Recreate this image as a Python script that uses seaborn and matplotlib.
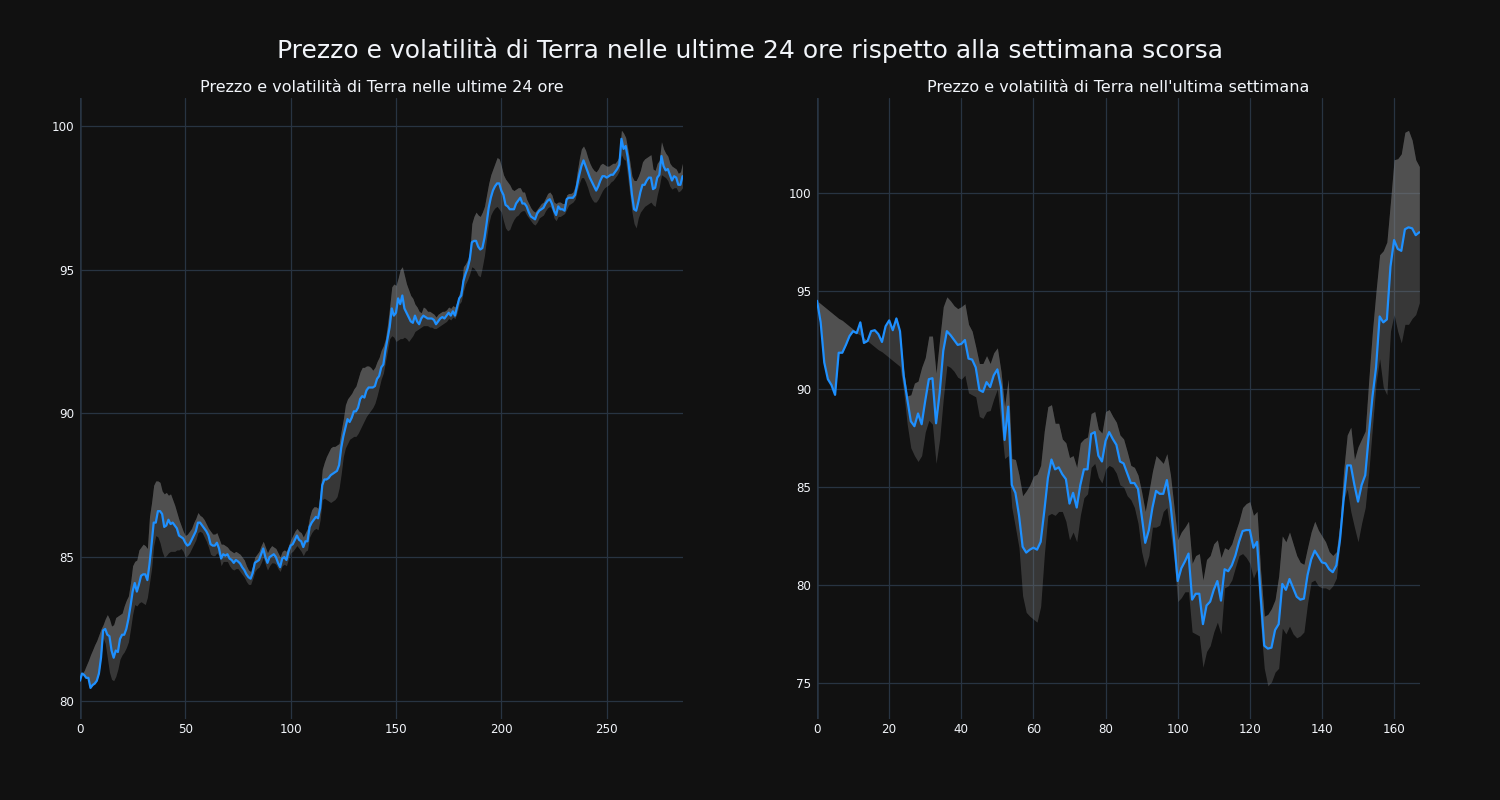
import numpy as np
import matplotlib
matplotlib.use("Agg")
import matplotlib.pyplot as plt
import seaborn as sns

# --- ultime 24 ore (prezzo e banda di volatilità) ---
prezzo_24h = [
    80.7, 80.95, 80.9, 80.8, 80.8, 80.45, 80.55, 80.6, 80.7, 80.95,
    81.5, 82.45, 82.5, 82.3, 82.25, 81.75, 81.5, 81.75, 81.7, 82.15,
    82.3, 82.3, 82.5, 82.85, 83.3, 83.8, 84.1, 83.8, 84.05, 84.35,
    84.4, 84.4, 84.2, 84.75, 85.45, 86.2, 86.2, 86.6, 86.6, 86.5,
    86.05, 86.1, 86.3, 86.15, 86.2, 86.1, 86.0, 85.75, 85.7, 85.65,
    85.5, 85.4, 85.45, 85.6, 85.75, 85.9, 86.2, 86.2, 86.1, 86.0,
    85.9, 85.75, 85.45, 85.4, 85.4, 85.5, 85.3, 84.95, 85.1, 85.05,
    85.1, 84.95, 84.9, 84.8, 84.9, 84.85, 84.78, 84.65, 84.55, 84.4,
    84.3, 84.25, 84.45, 84.8, 84.85, 84.9, 85.1, 85.3, 85.0, 84.8,
    85.0, 85.05, 85.1, 85.0, 84.8, 84.65, 84.95, 85.0, 84.9, 85.2,
    85.4, 85.45, 85.6, 85.75, 85.6, 85.55, 85.35, 85.55, 85.55, 86.05,
    86.2, 86.3, 86.4, 86.35, 86.7, 87.5, 87.7, 87.7, 87.75, 87.85,
    87.9, 87.95, 88.0, 88.2, 88.8, 89.2, 89.5, 89.8, 89.7, 89.85,
    90.07, 90.07, 90.2, 90.5, 90.6, 90.55, 90.8, 90.9, 90.9, 90.9,
    90.95, 91.2, 91.3, 91.6, 91.7, 92.2, 92.6, 93.0, 93.65, 93.4,
    93.5, 94.0, 93.8, 94.1, 93.65, 93.5, 93.35, 93.2, 93.15, 93.4,
    93.2, 93.1, 93.3, 93.4, 93.35, 93.3, 93.3, 93.3, 93.25, 93.1,
    93.2, 93.3, 93.35, 93.3, 93.4, 93.5, 93.4, 93.55, 93.4, 93.7,
    94.0, 94.1, 94.6, 94.85, 95.05, 95.35, 95.95, 96.0, 96.0, 95.8,
    95.7, 95.75, 96.1, 96.6, 97.15, 97.5, 97.75, 97.9, 98.0, 98.0,
    97.75, 97.6, 97.25, 97.2, 97.1, 97.1, 97.1, 97.3, 97.4, 97.5,
    97.3, 97.3, 97.2, 97.0, 96.85, 96.8, 96.75, 96.95, 97.05, 97.1,
    97.15, 97.3, 97.4, 97.45, 97.3, 97.05, 96.9, 97.2, 97.1, 97.1,
    97.05, 97.45, 97.5, 97.5, 97.5, 97.6, 97.95, 98.3, 98.6, 98.8,
    98.6, 98.4, 98.2, 98.05, 97.9, 97.75, 97.9, 98.1, 98.25, 98.25,
    98.2, 98.25, 98.3, 98.3, 98.4, 98.5, 98.65, 99.55, 99.2, 99.3,
    98.9, 98.3, 97.6, 97.1, 97.05, 97.35, 97.7, 97.95, 97.95, 98.1,
    98.2, 98.2, 97.8, 97.85, 98.2, 98.3, 98.95, 98.6, 98.45, 98.5,
    98.3, 98.1, 98.25, 98.2, 97.95, 97.95, 98.25,
]
sup_24h = [
    80.7, 80.95, 81.05, 81.23, 81.4, 81.6, 81.77, 81.95, 82.1, 82.3,
    82.5, 82.65, 82.85, 83.0, 82.85, 82.6, 82.65, 82.9, 82.95, 83.0,
    83.05, 83.3, 83.5, 83.65, 84.1, 84.7, 84.85, 84.9, 85.25, 85.35,
    85.45, 85.4, 85.3, 86.4, 86.9, 87.5, 87.65, 87.65, 87.6, 87.3,
    87.2, 87.25, 87.15, 87.2, 87.0, 86.8, 86.55, 86.3, 86.1, 85.9,
    85.75, 85.8, 85.9, 86.0, 86.2, 86.35, 86.55, 86.45, 86.4, 86.3,
    86.15, 86.0, 85.9, 85.8, 85.8, 85.85, 85.65, 85.45, 85.45, 85.4,
    85.35, 85.25, 85.2, 85.15, 85.2, 85.15, 85.1, 85.0, 84.9, 84.7,
    84.55, 84.5, 84.7, 85.0, 85.1, 85.2, 85.4, 85.55, 85.35, 85.15,
    85.3, 85.4, 85.35, 85.3, 85.15, 85.0, 85.2, 85.25, 85.2, 85.4,
    85.6, 85.75, 85.9, 86.0, 85.9, 85.85, 85.7, 85.85, 86.0, 86.4,
    86.65, 86.75, 86.75, 86.7, 87.2, 88.05, 88.3, 88.5, 88.65, 88.8,
    88.85, 88.85, 88.9, 88.95, 89.4, 89.8, 90.3, 90.5, 90.6, 90.7,
    90.85, 90.95, 91.2, 91.45, 91.6, 91.6, 91.65, 91.65, 91.6, 91.5,
    91.6, 91.8, 91.95, 92.2, 92.35, 92.6, 93.1, 93.7, 94.4, 94.5,
    94.45, 94.7, 95.0, 95.1, 94.8, 94.5, 94.3, 94.1, 94.0, 93.8,
    93.7, 93.55, 93.5, 93.7, 93.65, 93.55, 93.55, 93.5, 93.45, 93.35,
    93.45, 93.5, 93.55, 93.55, 93.6, 93.7, 93.65, 93.75, 93.7, 93.9,
    94.15, 94.4, 95.1, 95.2, 95.35, 95.6, 96.6, 96.85, 97.0, 96.9,
    96.85, 97.0, 97.2, 97.6, 98.0, 98.3, 98.5, 98.7, 98.9, 98.85,
    98.6, 98.3, 98.15, 98.05, 97.95, 97.8, 97.75, 97.8, 97.85, 97.85,
    97.7, 97.7, 97.45, 97.3, 97.15, 97.05, 97.0, 97.1, 97.2, 97.3,
    97.35, 97.5, 97.65, 97.7, 97.6, 97.35, 97.3, 97.35, 97.35, 97.3,
    97.3, 97.6, 97.65, 97.65, 97.7, 97.9, 98.4, 98.85, 99.2, 99.3,
    99.15, 98.9, 98.7, 98.55, 98.45, 98.4, 98.5, 98.65, 98.7, 98.65,
    98.6, 98.6, 98.65, 98.7, 98.7, 98.8, 98.95, 99.85, 99.75, 99.6,
    99.2, 98.75, 98.25, 98.1, 98.1, 98.25, 98.45, 98.75, 98.85, 98.9,
    98.95, 99.0, 98.5, 98.45, 98.7, 98.8, 99.45, 99.2, 99.05, 98.95,
    98.7, 98.6, 98.55, 98.5, 98.35, 98.4, 98.7,
]
inf_24h = [
    80.7, 80.95, 80.9, 80.8, 80.8, 80.45, 80.55, 80.6, 80.7, 80.95,
    81.5, 82.2, 82.0, 81.5, 81.0, 80.75, 80.7, 80.85, 81.1, 81.45,
    81.6, 81.7, 81.85, 82.05, 82.5, 83.0, 83.35, 83.3, 83.4, 83.45,
    83.4, 83.35, 83.6, 84.1, 84.6, 85.4, 85.75, 85.7, 85.5, 85.2,
    85.0, 85.05, 85.15, 85.2, 85.2, 85.2, 85.25, 85.25, 85.3, 85.2,
    85.0, 85.05, 85.15, 85.3, 85.45, 85.6, 85.85, 85.9, 85.85, 85.7,
    85.55, 85.35, 85.1, 85.05, 85.05, 85.15, 85.05, 84.7, 84.85, 84.85,
    84.85, 84.7, 84.6, 84.55, 84.6, 84.6, 84.5, 84.4, 84.3, 84.15,
    84.05, 84.05, 84.25, 84.5, 84.6, 84.65, 84.8, 85.0, 84.75, 84.55,
    84.7, 84.8, 84.8, 84.75, 84.6, 84.5, 84.7, 84.75, 84.7, 84.95,
    85.15, 85.2, 85.3, 85.4, 85.3, 85.2, 85.05, 85.2, 85.25, 85.7,
    85.85, 85.95, 86.0, 85.95, 86.3, 87.0, 87.05, 87.0, 86.95, 86.9,
    86.95, 87.0, 87.1, 87.4, 87.9, 88.5, 88.8, 88.95, 89.1, 89.15,
    89.2, 89.2, 89.3, 89.45, 89.6, 89.75, 89.9, 90.0, 90.1, 90.2,
    90.35, 90.6, 90.9, 91.2, 91.4, 91.8, 92.2, 92.6, 92.7, 92.65,
    92.5, 92.55, 92.6, 92.6, 92.65, 92.6, 92.5, 92.6, 92.7, 92.85,
    92.9, 92.95, 93.0, 93.05, 93.05, 93.05, 93.0, 93.0, 92.95, 92.95,
    93.0, 93.05, 93.1, 93.15, 93.2, 93.3, 93.25, 93.35, 93.3, 93.5,
    93.8, 93.9, 94.25, 94.5, 94.65, 94.85, 95.1, 95.05, 94.95, 94.8,
    94.75, 95.1, 95.5, 96.1, 96.6, 96.9, 97.05, 97.15, 97.2, 97.1,
    97.0, 96.7, 96.45, 96.35, 96.4, 96.6, 96.75, 96.85, 96.9, 97.0,
    97.05, 97.05, 96.9, 96.8, 96.7, 96.6, 96.55, 96.65, 96.8, 96.85,
    96.9, 97.05, 97.15, 97.2, 97.1, 96.8, 96.7, 96.85, 96.85, 96.9,
    96.95, 97.1, 97.25, 97.3, 97.35, 97.45, 97.75, 98.0, 98.2, 98.2,
    98.05, 97.85, 97.6, 97.45, 97.35, 97.35, 97.45, 97.6, 97.75, 97.85,
    97.9, 97.95, 98.05, 98.1, 98.2, 98.3, 98.45, 99.0, 98.85, 98.8,
    98.2, 97.6, 97.0, 96.6, 96.45, 96.8, 97.0, 97.1, 97.2, 97.25,
    97.3, 97.35, 97.25, 97.2, 97.6, 97.9, 98.3, 98.25, 98.2, 98.1,
    97.9, 97.8, 97.85, 97.85, 97.7, 97.75, 97.85,
]

# --- ultima settimana ---
prezzo_7g = [
    94.5, 93.4, 91.35, 90.5, 90.2, 89.7, 91.85, 91.85, 92.25, 92.7,
    92.95, 92.85, 93.4, 92.35, 92.45, 92.95, 93.0, 92.8, 92.4, 93.2,
    93.5, 93.0, 93.6, 92.95, 90.7, 89.5, 88.35, 88.1, 88.75, 88.2,
    89.4, 90.5, 90.55, 88.25, 89.8, 91.95, 92.95, 92.75, 92.5, 92.25,
    92.3, 92.5, 91.55, 91.5, 91.1, 89.95, 89.85, 90.35, 90.1, 90.7,
    91.0, 90.1, 87.4, 89.1, 85.1, 84.7, 83.55, 81.95, 81.65, 81.8,
    81.9, 81.8, 82.2, 83.75, 85.45, 86.4, 85.9, 86.0, 85.65, 85.4,
    84.15, 84.7, 83.95, 85.1, 85.9, 85.9, 87.7, 87.8, 86.6, 86.3,
    87.35, 87.8, 87.45, 87.15, 86.3, 86.2, 85.7, 85.2, 85.2, 84.9,
    83.55, 82.15, 82.8, 83.95, 84.8, 84.65, 84.65, 85.35, 84.15, 82.3,
    80.2, 80.85, 81.2, 81.6, 79.25, 79.55, 79.55, 78.0, 78.95, 79.15,
    79.75, 80.2, 79.2, 80.8, 80.7, 81.0, 81.5, 82.2, 82.75, 82.8,
    82.8, 81.9, 82.2, 79.45, 76.9, 76.75, 76.8, 77.7, 78.0, 80.05,
    79.75, 80.3, 79.85, 79.4, 79.25, 79.3, 80.5, 81.3, 81.75, 81.45,
    81.15, 81.1, 80.8, 80.65, 81.0, 82.3, 84.35, 86.1, 86.1, 85.1,
    84.25, 85.1, 85.6, 87.65, 89.6, 91.1, 93.7, 93.4, 93.55, 96.25,
    97.6, 97.15, 97.05, 98.15, 98.25, 98.2, 97.85, 98.0,
]
sup_7g = [
    94.5, 94.35, 94.2, 94.05, 93.9, 93.75, 93.6, 93.5, 93.35, 93.2,
    93.05, 92.9, 93.4, 92.6, 92.45, 92.95, 93.0, 92.8, 92.4, 93.2,
    93.5, 93.0, 93.6, 92.95, 91.0, 89.65, 89.7, 90.3, 90.4, 91.1,
    91.6, 92.7, 92.7, 90.8, 92.55, 94.2, 94.7, 94.5, 94.25, 94.1,
    94.2, 94.35, 93.3, 92.95, 92.15, 91.3, 91.3, 91.7, 91.3, 91.85,
    92.1, 90.9, 89.1, 90.5, 86.45, 86.4, 85.6, 84.55, 84.8, 85.1,
    85.55, 85.65, 86.1, 87.85, 89.1, 89.2, 88.25, 88.25, 87.45, 87.25,
    86.5, 86.6, 86.0, 87.25, 87.45, 87.55, 88.75, 88.85, 87.95, 87.75,
    88.85, 88.95, 88.6, 88.3, 87.65, 87.45, 86.8, 86.1, 86.0, 85.6,
    84.75, 83.75, 84.75, 85.8, 86.6, 86.4, 86.2, 86.7, 85.6, 83.95,
    82.3, 82.7, 82.95, 83.25, 81.1, 81.5, 81.6, 80.25, 81.3, 81.5,
    82.1, 82.3, 81.4, 81.9, 81.8, 82.1, 82.7, 83.25, 83.95, 84.15,
    84.25, 83.55, 83.75, 80.7, 78.4, 78.5, 78.8, 79.25, 80.45, 82.5,
    82.2, 82.7, 82.1, 81.5, 81.15, 81.05, 81.9, 82.7, 83.25, 82.8,
    82.5, 82.2, 81.7, 81.5, 81.7, 83.15, 85.8, 87.65, 88.05, 86.4,
    87.05, 87.45, 87.85, 90.5, 92.95, 95.0, 96.85, 97.05, 97.5, 99.55,
    101.7, 101.75, 102.0, 103.1, 103.2, 102.7, 101.7, 101.35,
]
inf_7g = [
    94.5, 93.4, 91.35, 90.5, 90.2, 89.7, 91.85, 91.85, 92.25, 92.7,
    92.95, 92.85, 92.75, 92.35, 92.45, 92.3, 92.15, 92.0, 91.9, 91.75,
    91.6, 91.45, 91.3, 91.15, 89.9, 88.2, 87.0, 86.6, 86.3, 86.6,
    87.8, 88.4, 88.2, 86.2, 87.45, 89.5, 91.2, 91.1, 90.9, 90.6,
    90.5, 90.7, 89.8, 89.7, 89.6, 88.6, 88.5, 88.85, 88.9, 89.5,
    90.0, 88.25, 86.45, 86.6, 83.95, 82.95, 81.9, 79.45, 78.6, 78.4,
    78.25, 78.1, 78.9, 81.5, 83.55, 83.65, 83.55, 83.75, 83.75, 83.25,
    82.3, 82.7, 82.2, 83.55, 84.45, 84.65, 86.0, 86.2, 85.5, 85.2,
    85.9, 86.1, 86.0, 85.7, 85.1, 85.0, 84.55, 84.35, 83.95, 83.15,
    81.7, 80.9, 81.5, 82.95, 82.95, 83.05, 83.75, 83.95, 82.7, 81.3,
    79.15, 79.35, 79.65, 79.65, 77.6, 77.5, 77.4, 75.8, 76.6, 76.9,
    77.6, 78.1, 77.5, 79.85, 79.95, 80.25, 80.9, 81.5, 81.6, 81.4,
    81.1, 80.35, 80.8, 78.0, 75.75, 74.85, 75.05, 75.55, 75.75, 77.8,
    77.5, 77.9, 77.5, 77.3, 77.4, 77.6, 79.05, 80.15, 80.25, 79.95,
    79.85, 79.85, 79.75, 79.95, 80.35, 82.1, 84.3, 84.9, 83.75, 82.95,
    82.2, 83.15, 83.95, 85.8, 88.05, 90.3, 91.55, 90.1, 89.7, 92.95,
    93.8, 92.95, 92.35, 93.3, 93.3, 93.6, 93.8, 94.4,
]

titolo = "Prezzo e volatilità di Terra nelle ultime 24 ore rispetto alla settimana scorsa"
titolo_24h = "Prezzo e volatilità di Terra nelle ultime 24 ore"
titolo_7g = "Prezzo e volatilità di Terra nell'ultima settimana"

BG = "#111111"
GRID = "#283442"
TXT = "#f2f5fa"
BLU = "#1E90FF"

sns.set_theme(style="darkgrid")
plt.rcParams.update({
    "figure.facecolor": BG,
    "axes.facecolor": BG,
    "axes.edgecolor": BG,
    "grid.color": GRID,
    "grid.linewidth": 0.9,
    "text.color": TXT,
    "xtick.color": TXT,
    "ytick.color": TXT,
    "axes.labelcolor": TXT,
})
plt.rcParams["font.family"] = ["DejaVu Sans"]

fig = plt.figure(figsize=(15, 8), dpi=100)
ax1 = fig.add_axes([0.0533, 0.1013, 0.402, 0.7762])
ax2 = fig.add_axes([0.5447, 0.1013, 0.402, 0.7762])


def pannello(ax, prezzo, sup, inf, titolo_ax, xticks, yticks, ylim):
    x = np.arange(len(prezzo))
    p = np.array(prezzo)
    s = np.array(sup)
    i = np.array(inf)
    ax.fill_between(x, i, s, color="#808080", alpha=0.35, linewidth=0)
    ax.fill_between(x, p, s, color="#808080", alpha=0.35, linewidth=0)
    sns.lineplot(x=x, y=p, ax=ax, color=BLU, linewidth=1.6)
    ax.axvline(0, color=GRID, linewidth=1.8, zorder=1)
    ax.set_xlim(0, len(prezzo) - 1 + 0.2)
    ax.set_ylim(*ylim)
    ax.set_xticks(xticks)
    ax.set_yticks(yticks)
    ax.tick_params(axis="x", length=0, labelsize=8.6, pad=3)
    ax.tick_params(axis="y", length=0, labelsize=8.6, pad=4)
    ax.set_xlabel("")
    ax.set_ylabel("")
    for sp in ax.spines.values():
        sp.set_visible(False)
    ax.set_title(titolo_ax, fontsize=11.5, color=TXT, pad=4)


pannello(ax1, prezzo_24h, sup_24h, inf_24h, titolo_24h,
         [0, 50, 100, 150, 200, 250], [80, 85, 90, 95, 100], (79.37, 100.97))
pannello(ax2, prezzo_7g, sup_7g, inf_7g, titolo_7g,
         [0, 20, 40, 60, 80, 100, 120, 140, 160], [75, 80, 85, 90, 95, 100], (73.16, 104.85))

fig.suptitle(titolo, fontsize=18.0, color=TXT, y=0.937, va="center")

fig.savefig("out.png", dpi=100, facecolor=BG)
